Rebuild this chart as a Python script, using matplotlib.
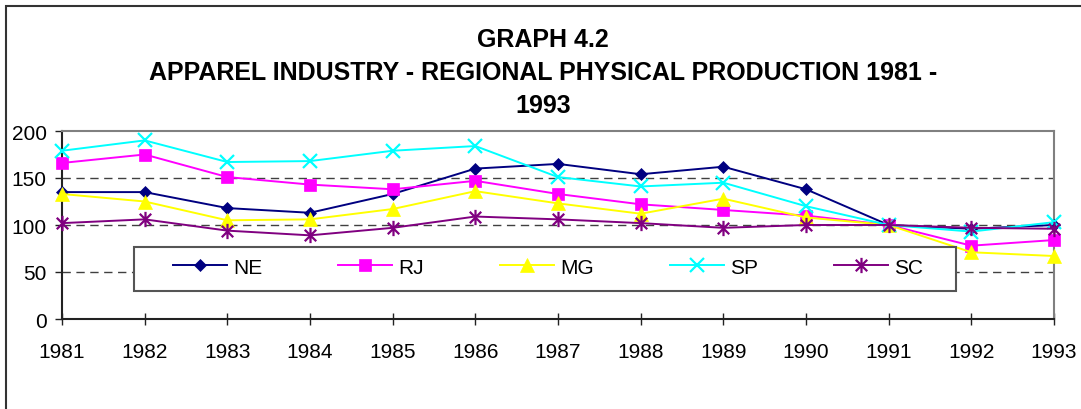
import matplotlib
matplotlib.use("Agg")
import matplotlib.pyplot as plt
from matplotlib.path import Path
from matplotlib.patches import Rectangle

plt.rcParams['font.family'] = ['Liberation Sans', 'DejaVu Sans']

years = [1981, 1982, 1983, 1984, 1985, 1986, 1987, 1988, 1989, 1990, 1991, 1992, 1993]
NE = [135, 135, 118, 113, 133, 160, 165, 154, 162, 138, 100, 96, 100]
RJ = [166, 175, 151, 143, 138, 147, 133, 122, 116, 110, 100, 78, 84]
MG = [133, 125, 105, 106, 117, 136, 123, 112, 128, 108, 100, 71, 67]
SP = [179, 190, 167, 168, 179, 184, 151, 141, 145, 120, 100, 93, 103]
SC = [102, 106, 94, 89, 97, 109, 106, 102, 97, 100, 100, 97, 96]
yticks = [0, 50, 100, 150, 200]
title_lines = ["GRAPH 4.2",
               "APPAREL INDUSTRY - REGIONAL PHYSICAL PRODUCTION 1981 -",
               "1993"]

W, H = 1081, 410
fig = plt.figure(figsize=(W / 100, H / 100), dpi=100)
fig.patch.set_facecolor('white')

# outer chart border (only left and top visible)
fig.add_artist(Rectangle((6 / W, -0.2), 2.0, 1.2 - 7 / H,
                         transform=fig.transFigure, fill=False,
                         edgecolor='#333333', linewidth=1.5))

ax = fig.add_axes([62 / W, 1 - 320 / H, (1054 - 62) / W, (320 - 132) / H])

asterisk = Path([(0, -1), (0, 1), (-0.75, -0.75), (0.75, 0.75), (-0.75, 0.75), (0.75, -0.75)],
                [Path.MOVETO, Path.LINETO, Path.MOVETO, Path.LINETO, Path.MOVETO, Path.LINETO])

series = [
    ("NE", NE, '#000080', 'D', 6.5, '#000080'),
    ("RJ", RJ, '#FF00FF', 's', 9.0, '#FF00FF'),
    ("MG", MG, '#FFFF00', '^', 10.5, '#FFFF00'),
    ("SP", SP, '#00FFFF', 'x', 9.5, 'none'),
    ("SC", SC, '#800080', asterisk, 11.0, 'none'),
]
for name, vals, col, mk, ms, fc in series:
    ax.plot(years, vals, color=col, linewidth=1.4, marker=mk, markersize=ms,
            markerfacecolor=fc, markeredgecolor=col, markeredgewidth=1.6 if fc == 'none' else 0.5,
            clip_on=False, label=name, zorder=3)

ax.set_xlim(1981, 1993)
ax.set_ylim(0, 200)
ax.set_xticks(years)
ax.set_xticklabels([str(y) for y in years])
ax.set_yticks(yticks)

for v in [50, 100, 150]:
    ax.axhline(v, color='#404040', linewidth=1.0, linestyle=(0, (6, 4)), zorder=1)

for s in ['top', 'right']:
    ax.spines[s].set_color('#808080')
    ax.spines[s].set_linewidth(1.5)
for s in ['left', 'bottom']:
    ax.spines[s].set_color('#222222')
    ax.spines[s].set_linewidth(1.5)

ax.tick_params(axis='x', direction='inout', length=9, width=1, pad=12, labelsize=15, colors='#222222', labelcolor='black')
ax.tick_params(axis='y', direction='out', length=5, width=1, pad=6, labelsize=15, colors='#222222', labelcolor='black')

# legend frame
lx0 = (134 - 62) / 992
lx1 = (956 - 62) / 992
ly0 = (320 - 292) / 188
ly1 = (320 - 248) / 188
ax.add_patch(Rectangle((lx0, ly0), lx1 - lx0, ly1 - ly0, transform=ax.transAxes,
                       facecolor='white', edgecolor='#555555', linewidth=1.5, zorder=4, clip_on=False))
hx0 = (173 - 62) / 992
hx1 = (923 - 62) / 992
leg = ax.legend(ncol=5, mode='expand', loc='center',
                bbox_to_anchor=(hx0, (320 - 268) / 188 - 0.05, hx1 - hx0, 0.1),
                frameon=False, fontsize=15, handlelength=2.6, handletextpad=0.3,
                borderpad=0, borderaxespad=0)
leg.set_zorder(5)

ys = [47, 80, 113]
for t, yb in zip(title_lines, ys):
    fig.text(543 / W, 1 - yb / H, t, ha='center', va='baseline', fontsize=18, fontweight='bold')

fig.savefig('out.png', dpi=100)
